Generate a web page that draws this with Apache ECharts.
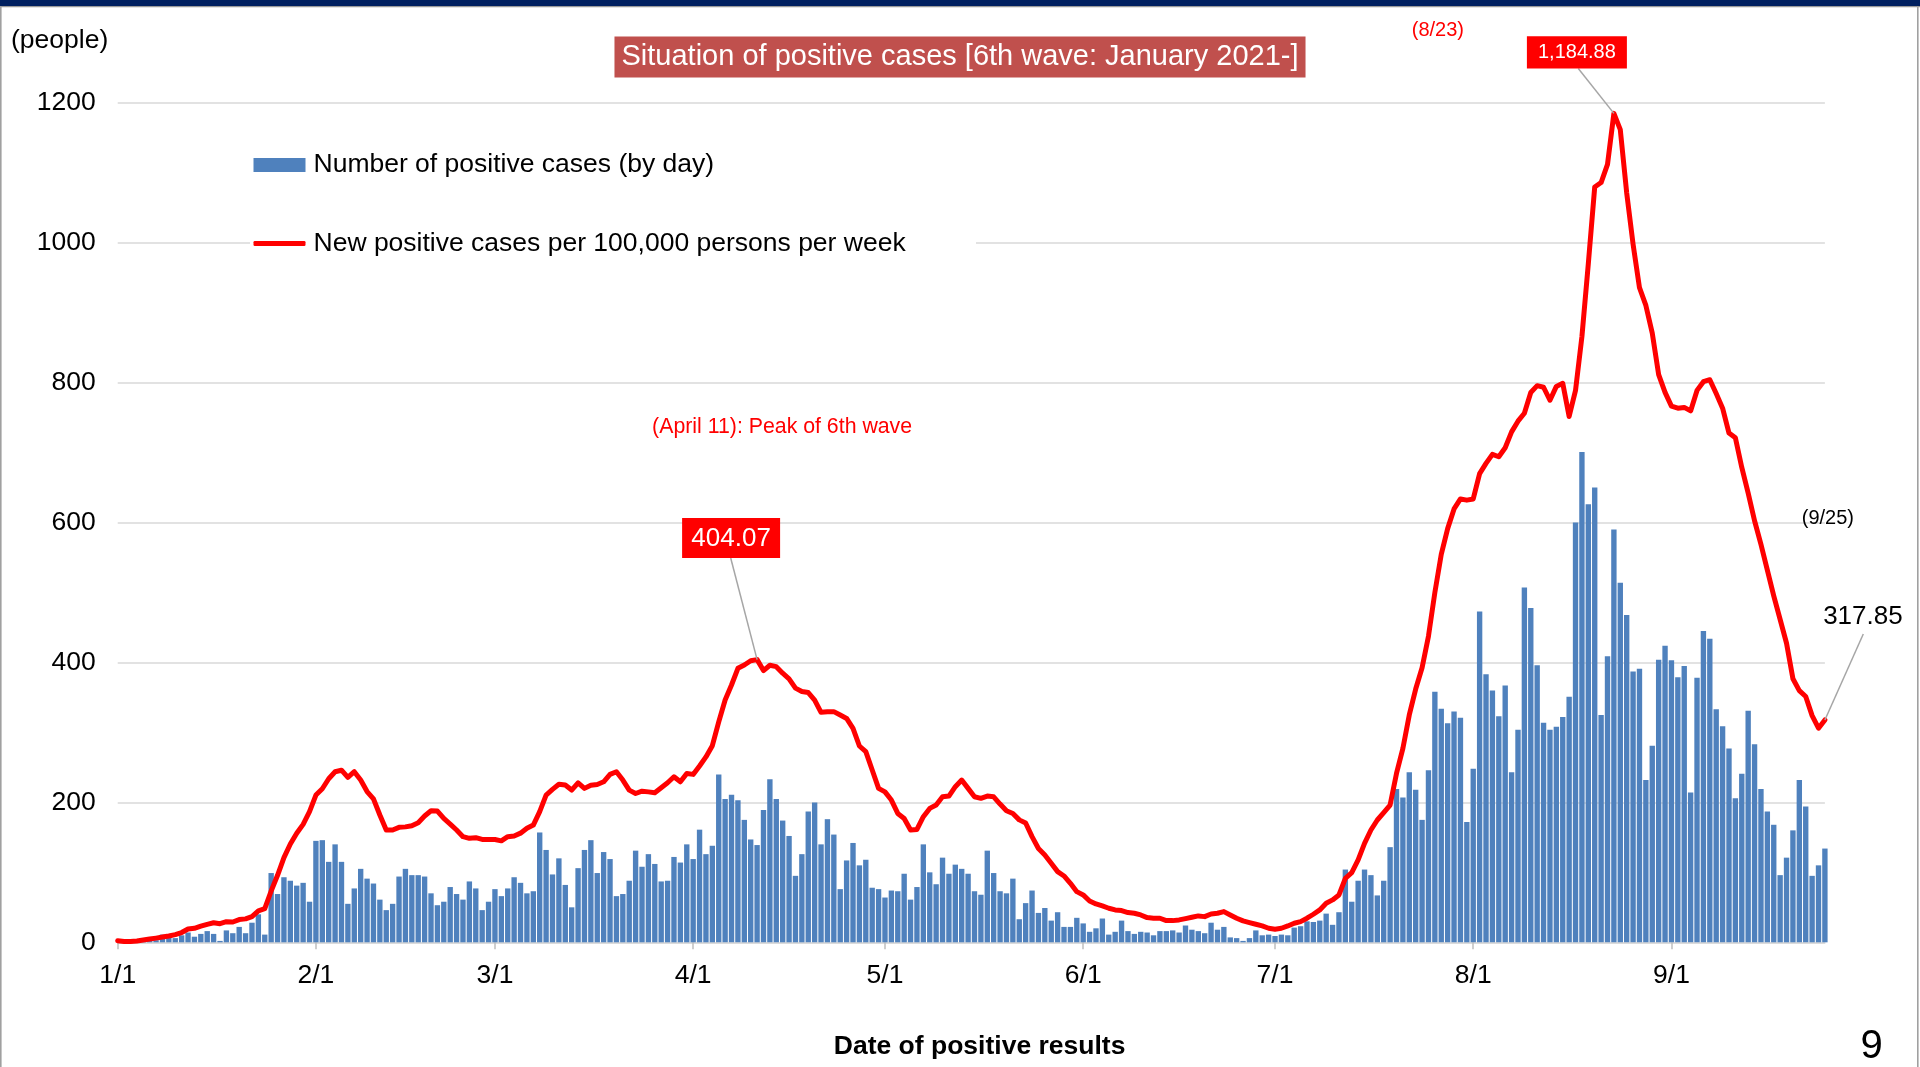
<!DOCTYPE html>
<html>
<head>
<meta charset="utf-8">
<title>Situation of positive cases</title>
<script src="https://cdn.jsdelivr.net/npm/echarts@6/dist/echarts.min.js"></script>
<style>
  html, body { margin: 0; padding: 0; background: #fff; }
  #main { width: 1920px; height: 1067px; }
</style>
</head>
<body>
<div id="main"></div>
<script>
// Days per month shown on the axis (2021, January 1 to September 25)
const monthDays = [31, 28, 31, 30, 31, 30, 31, 31, 25];

// Number of positive cases (by day)
const janCases = [0,0,1,1,1,2,3,11,9,6,10,14,8,12,16,12,2,17,13,22,13,28,40,11,99,69,93,88,81,85,58];
const febCases = [145,146,115,140,115,55,77,105,91,84,61,46,55,94,105,96,96,94,70,53,58,79,69,61,87,77,46,58];
const marCases = [76,66,77,93,85,70,73,157,132,97,120,82,50,106,132,146,99,129,119,66,69,88,131,108,126,112,87,88,122,114,140];
const aprCases = [119,161,126,138,240,205,211,203,175,147,139,189,233,205,174,152,95,126,187,200,140,176,154,76,117,142,110,118,78,76];
const mayCases = [64,74,73,98,61,79,140,100,83,121,98,111,105,98,73,68,131,99,73,70,91,33,56,74,42,49,31,43,22,22,35];
const junCases = [27,15,20,34,11,15,31,16,12,15,14,10,16,16,17,14,24,18,16,13,28,18,22,7,6,2,6,17,10,11];
const julCases = [9,11,10,21,23,30,29,31,41,25,43,104,58,88,104,96,67,88,136,219,207,243,218,175,246,358,334,313,330,321,172];
const augCases = [248,473,383,360,323,367,243,304,507,478,396,314,304,308,322,351,600,701,626,650,325,409,590,514,468,387,391,232,281,404,424];
const sepCases = [403,379,395,214,378,445,434,333,309,277,206,241,331,283,219,187,168,96,121,160,232,194,95,110,134];

// New positive cases per 100,000 persons per week
const janRate = [2.3,1.3,1.0,2.0,3.3,4.7,6.0,7.5,9.0,11.0,14.0,19.0,20.0,23.0,25.7,28.0,26.6,29.5,29.0,32.5,33.5,36.8,45.0,48.0,73.3,95.8,121.0,140.5,156.0,168.6,186.7];
const febRate = [210.5,219.5,233.8,243.8,246.0,235.8,243.8,232.0,215.5,205.0,182.0,160.5,160.5,164.3,165.0,166.7,171.0,180.5,188.0,187.6,177.0,169.0,160.5,151.0,148.6,149.6,147.0,147.0];
const marRate = [147.0,145.0,151.0,152.0,156.0,163.0,167.6,186.7,210.5,218.6,226.0,224.8,217.6,228.0,220.0,224.6,225.6,229.4,240.0,243.8,231.9,217.5,212.7,216.0,215.0,213.7,220.9,228.0,236.6,229.4,241.4];
const aprRate = [240.0,252.0,265.0,281.0,315.0,346.3,367.8,391.6,396.3,402.5,404.07,388.4,396.0,394.0,384.7,376.6,363.3,358.5,357.0,346.3,328.7,329.7,329.7,324.9,320.0,305.8,280.6,272.5,246.3,220.0];
const mayRate = [215.0,203.3,184.2,177.0,160.5,161.4,179.5,191.4,196.2,208.0,209.0,222.4,231.9,220.0,208.0,205.8,209.0,208.0,197.6,188.0,184.2,175.0,170.5,151.0,134.0,124.8,112.9,101.0,94.8,84.3,72.4];
const junRate = [67.7,59.1,54.8,52.0,48.7,46.3,45.3,42.5,41.5,39.1,35.3,34.4,34.4,31.0,31.0,32.0,33.9,35.8,37.7,36.7,40.5,41.5,43.9,39.1,34.4,30.6,28.2,25.8,23.4,20.1];
const julRate = [18.7,20.1,23.4,27.3,29.6,34.4,40.1,46.3,55.8,60.6,67.7,91.5,99.6,117.7,141.5,160.5,174.8,185.3,196.2,241.4,277.2,325.0,362.0,392.5,437.5,500.0,554.6,591.3,619.5,633.7,632.0];
const augRate = [633.7,670.0,684.5,697.5,694.0,707.0,729.6,744.9,756.2,786.0,795.7,793.4,774.8,794.6,799.0,751.7,788.9,866.0,970.0,1079.7,1086.0,1112.0,1184.88,1161.6,1071.3,997.9,935.7,910.3,870.8,811.5,786.0];
const sepRate = [766.4,763.5,764.6,759.6,788.9,801.4,804.2,784.4,763.5,728.0,721.2,678.8,642.1,602.6,568.7,532.0,495.3,461.4,427.5,376.7,359.8,351.3,324.0,306.0,317.85];

// Y axis ticks
const yTicks = [0, 200, 400, 600, 800, 1000, 1200];

const barName = 'Number of positive cases (by day)';
const lineName = 'New positive cases per 100,000 persons per week';
const titleText = 'Situation of positive cases [6th wave: January 2021-]';
const peakNote = '(April 11): Peak of 6th wave';

// Date categories M/D
const categories = [];
monthDays.forEach((n, m) => { for (let d = 1; d <= n; d++) categories.push((m + 1) + '/' + d); });

const dailyCases = [].concat(janCases, febCases, marCases, aprCases, mayCases, junCases, julCases, augCases, sepCases);
const weeklyRate = [].concat(janRate, febRate, marRate, aprRate, mayRate, junRate, julRate, augRate, sepRate);

const FONT = '"Liberation Sans", Arial, sans-serif';
const isMonthStart = (i, v) => /\/1$/.test(categories[i]);

const chart = echarts.init(document.getElementById('main'), null, { renderer: 'canvas' });

chart.setOption({
  animation: false,
  backgroundColor: '#fff',
  textStyle: { fontFamily: FONT },
  title: {
    text: titleText,
    left: 'center',
    top: 36.5,
    padding: [5, 7],
    backgroundColor: '#C0504D',
    textStyle: { color: '#fff', fontSize: 29, fontWeight: 'normal', fontFamily: FONT, lineHeight: 31 }
  },
  legend: [
    {
      data: [{ name: barName, icon: 'rect' }],
      selectedMode: false, left: 253.5, top: 149, padding: 0,
      itemWidth: 52, itemHeight: 14,
      textStyle: { fontSize: 26.5, color: '#000', fontFamily: FONT, lineHeight: 30, padding: [2, 0, 0, 3] }
    },
    {
      data: [{ name: lineName, icon: 'roundRect' }],
      selectedMode: false, left: 253.5, top: 227.5, padding: 0,
      itemWidth: 52, itemHeight: 5,
      textStyle: { fontSize: 26.5, color: '#000', fontFamily: FONT, lineHeight: 30, padding: [2, 0, 0, 3] }
    }
  ],
  grid: { left: 117.7, right: 95.1, top: 102.8, bottom: 124.7, containLabel: false },
  xAxis: {
    type: 'category',
    data: categories,
    boundaryGap: false,
    axisLine: { show: true, lineStyle: { color: '#D9D9D9', width: 1.5 } },
    axisTick: { show: true, interval: isMonthStart, length: 7, lineStyle: { color: '#BFBFBF', width: 1.5 } },
    axisLabel: { interval: isMonthStart, margin: 19.5, fontSize: 26.5, color: '#000', fontFamily: FONT },
    splitLine: { show: false }
  },
  yAxis: {
    type: 'value',
    min: yTicks[0], max: yTicks[yTicks.length - 1], interval: yTicks[1] - yTicks[0],
    axisLine: { show: false },
    axisTick: { show: false },
    axisLabel: { margin: 22, fontSize: 26.5, color: '#000', fontFamily: FONT, padding: [4, 0, 0, 0], formatter: (v) => String(v) },
    splitLine: { lineStyle: { color: '#D9D9D9', width: 1.5 } }
  },
  series: [
    {
      name: barName,
      type: 'bar',
      data: dailyCases,
      barCategoryGap: '16%',
      clip: false,
      itemStyle: { color: '#4F81BD' },
      z: 2
    },
    {
      name: lineName,
      type: 'line',
      data: weeklyRate,
      symbol: 'none',
      itemStyle: { color: '#FF0000' },
      lineStyle: { color: '#FF0000', width: 5, join: 'round', cap: 'round' },
      z: 3
    }
  ]
});

// Callouts anchored on the plotted points
const toPx = (i) => chart.convertToPixel({ gridIndex: 0 }, [i, weeklyRate[i]]);
const idxApril = weeklyRate.indexOf(Math.max.apply(null, aprRate));
const idxPeak = weeklyRate.indexOf(Math.max.apply(null, weeklyRate));
const idxLast = weeklyRate.length - 1;
const pA = toPx(idxApril), pP = toPx(idxPeak), pL = toPx(idxLast);
const fmt = (v) => v.toLocaleString('en-US', { minimumFractionDigits: 2, maximumFractionDigits: 2 });

function txt(text, x, y, size, color, opts) {
  return {
    type: 'text', z: 20,
    style: {
      text: text, x: x, y: y, fill: color,
      fontSize: size, fontFamily: FONT, fontWeight: (opts && opts.bold) ? 'bold' : 'normal',
      align: (opts && opts.align) || 'center', verticalAlign: 'middle',
      textAlign: (opts && opts.align) || 'center', textVerticalAlign: 'middle'
    }
  };
}
function leader(x1, y1, x2, y2) {
  return { type: 'line', z: 19, shape: { x1: x1, y1: y1, x2: x2, y2: y2 }, style: { stroke: '#A6A6A6', lineWidth: 1.5 } };
}
function box(x, y, w, h) {
  return { type: 'rect', z: 19, shape: { x: x, y: y, width: w, height: h }, style: { fill: '#FF0000' } };
}

const graphics = [
  // page frame
  { type: 'rect', z: 30, shape: { x: 0, y: 0, width: 1920, height: 6 }, style: { fill: '#002060' } },
  { type: 'rect', z: 30, shape: { x: 0, y: 6, width: 1920, height: 1.2 }, style: { fill: '#9A9A9A' } },
  { type: 'rect', z: 30, shape: { x: 0, y: 6, width: 1.6, height: 1061 }, style: { fill: '#A0A0A0' } },
  { type: 'rect', z: 30, shape: { x: 1917, y: 6, width: 1.6, height: 1061 }, style: { fill: '#A0A0A0' } },
  // legend backdrop
  { type: 'rect', z: 1, shape: { x: 250, y: 125, width: 726, height: 150 }, style: { fill: '#fff' } },
  txt('(people)', 11, 40.5, 26.5, '#000', { align: 'left' }),
  txt('Date of positive results', 979.6, 1047, 26.5, '#000', { bold: true }),
  txt('9', 1871.5, 1047, 40, '#000'),

  // April peak
  txt(peakNote, pA[0] + 25, pA[1] - 233, 21.3, '#FF0000'),
  leader(pA[0] - 26.4, pA[1] - 101.6, pA[0], pA[1]),
  box(pA[0] - 75, pA[1] - 141.6, 98, 40),
  txt(fmt(weeklyRate[idxApril]), pA[0] - 26, pA[1] - 120.6, 26, '#fff'),

  // August peak
  txt('(' + categories[idxPeak] + ')', pP[0] - 176, pP[1] - 82.5, 20, '#FF0000'),
  leader(pP[0] - 35.6, pP[1] - 44.9, pP[0], pP[1]),
  box(pP[0] - 87, pP[1] - 77.2, 100, 32.3),
  txt(fmt(weeklyRate[idxPeak]), pP[0] - 37, pP[1] - 60.5, 20, '#fff'),

  // latest value
  txt('(' + categories[idxLast] + ')', pL[0] + 3, pL[1] - 201, 20, '#000'),
  leader(pL[0] + 38.4, pL[1] - 86, pL[0], pL[1]),
  txt(fmt(weeklyRate[idxLast]), pL[0] + 38, pL[1] - 103, 26, '#000')
];

chart.setOption({ graphic: { elements: graphics } });
</script>
</body>
</html>
